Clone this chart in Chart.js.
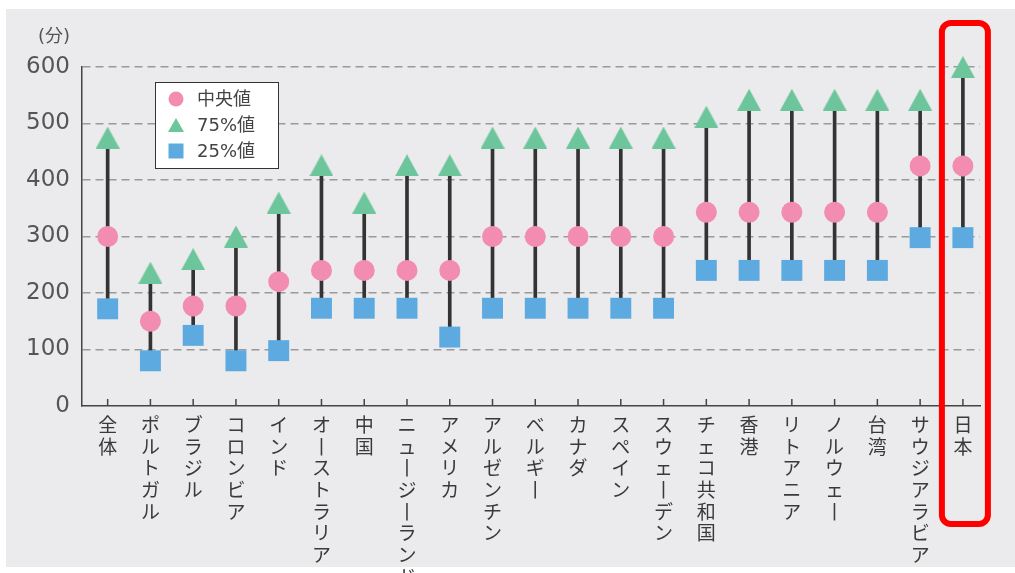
<!DOCTYPE html>
<html lang="ja">
<head>
<meta charset="utf-8">
<script src="https://cdn.jsdelivr.net/npm/chart.js@4.4.1/dist/chart.umd.min.js"></script>
<style>
  body { margin: 0; background: #fff; }
  #panel { position: absolute; left: 6px; top: 9px; right: 0; bottom: 6px; background: #ebebed; }
  #wrap { position: absolute; left: 0; top: 0; width: 1015px; height: 573px; }
</style>
</head>
<body>
<div id="panel"></div>
<div id="wrap"><canvas id="chart"></canvas></div>
<script>
const categories = ['全体', 'ポルトガル', 'ブラジル', 'コロンビア', 'インド', 'オーストラリア', '中国',
  'ニュージーランド', 'アメリカ', 'アルゼンチン', 'ベルギー', 'カナダ', 'スペイン', 'スウェーデン',
  'チェコ共和国', '香港', 'リトアニア', 'ノルウェー', '台湾', 'サウジアラビア', '日本'];
const median = [300, 150, 177, 177, 220, 240, 240, 240, 240, 300, 300, 300, 300, 300,
  343, 343, 343, 343, 343, 425, 425];
const q75 = [475, 236, 260, 300, 360, 426, 360, 426, 426, 475, 475, 475, 475, 475,
  512, 542, 542, 542, 542, 542, 600];
const q25 = [172, 80, 125, 80, 98, 173, 173, 173, 122, 173, 173, 173, 173, 173,
  240, 240, 240, 240, 240, 298, 298];
const yTicks = [0, 100, 200, 300, 400, 500, 600];

const PINK = '#f28db1';
const GREEN = '#6dc59c';
const BLUE = '#5caadf';
const FONT = '"DejaVu Sans", "Noto Sans CJK JP", sans-serif';

// triangle marker centred on its box, like the original
const tri = document.createElement('canvas');
tri.width = 24; tri.height = 22;
const tctx = tri.getContext('2d');
tctx.fillStyle = GREEN;
tctx.beginPath(); tctx.moveTo(12, 0); tctx.lineTo(24, 22); tctx.lineTo(0, 22); tctx.closePath(); tctx.fill();

const pts = arr => arr.map((v, i) => ({ x: i, y: v }));

const extras = {
  id: 'extras',
  afterDraw(chart) {
    const { ctx, chartArea, scales } = chart;
    const xs = scales.x;
    ctx.save();
    // upward tick marks on the x axis
    ctx.strokeStyle = '#444'; ctx.lineWidth = 1.5;
    categories.forEach((c, i) => {
      const x = xs.getPixelForValue(i);
      ctx.beginPath(); ctx.moveTo(x, chartArea.bottom); ctx.lineTo(x, chartArea.bottom - 7); ctx.stroke();
    });
    // unit
    ctx.fillStyle = '#555'; ctx.font = '18px ' + FONT;
    ctx.textAlign = 'right'; ctx.textBaseline = 'middle';
    ctx.fillText('(分)', chartArea.left - 12, chartArea.top - 30);
    // legend box
    const left = chartArea.left + 73, top = chartArea.top + 15;
    ctx.fillStyle = '#fff'; ctx.fillRect(left, top, 123, 86);
    ctx.strokeStyle = '#333'; ctx.lineWidth = 1; ctx.strokeRect(left + 0.5, top + 0.5, 123, 86);
    ctx.font = '18px ' + FONT; ctx.textAlign = 'left';
    chart.data.datasets.filter(d => d.type === 'line').forEach((d, i) => {
      const cx = left + 21, cy = top + 17 + i * 26;
      ctx.fillStyle = d.pointBackgroundColor;
      ctx.beginPath();
      if (d.pointStyle === 'circle') ctx.arc(cx, cy, 7.5, 0, Math.PI * 2);
      else if (d.pointStyle === 'rect') ctx.rect(cx - 7.5, cy - 7.5, 15, 15);
      else { ctx.moveTo(cx, cy - 7); ctx.lineTo(cx + 8, cy + 7); ctx.lineTo(cx - 8, cy + 7); ctx.closePath(); }
      ctx.fill();
      ctx.fillStyle = '#444';
      ctx.fillText(d.label, left + 42, cy + 1);
    });
    // red highlight round 日本
    const jx = xs.getPixelForValue(categories.length - 1);
    ctx.strokeStyle = '#ff0000'; ctx.lineWidth = 6;
    ctx.beginPath(); ctx.roundRect(jx - 21, 23, 46, 501, 9); ctx.stroke();
    ctx.restore();
  }
};

new Chart(document.getElementById('chart'), {
  type: 'bar',
  data: {
    datasets: [
      { type: 'line', label: '中央値', data: pts(median), showLine: false, clip: false,
        pointStyle: 'circle', pointRadius: 10.5, pointBackgroundColor: PINK, pointBorderWidth: 0, order: 0 },
      { type: 'line', label: '75%値', data: pts(q75), showLine: false, clip: false,
        pointStyle: tri, pointRadius: 12, pointBackgroundColor: GREEN, pointBorderWidth: 0, order: 1 },
      { type: 'line', label: '25%値', data: pts(q25), showLine: false, clip: false,
        pointStyle: 'rect', pointRadius: 14.8, pointBackgroundColor: BLUE, pointBorderWidth: 0, order: 2 },
      { type: 'bar', label: 'range', data: categories.map((c, i) => ({ x: i, y: [q25[i], q75[i]] })),
        backgroundColor: '#333', barThickness: 3, order: 5 }
    ]
  },
  options: {
    responsive: true,
    maintainAspectRatio: false,
    animation: false,
    layout: { padding: { top: 67, right: 35, left: 0, bottom: 0 } },
    plugins: { legend: { display: false }, tooltip: { enabled: false } },
    scales: {
      x: {
        type: 'linear', min: -0.6, max: 20.4, offset: false,
        grid: { display: false, drawTicks: false, offset: false },
        border: { display: true, color: '#444', width: 1.5 },
        afterBuildTicks: s => { s.ticks = categories.map((c, i) => ({ value: i })); },
        afterFit: s => { s.height = 167; },
        ticks: {
          autoSkip: false, maxRotation: 0, minRotation: 0, padding: 8,
          color: '#3a3a3a', font: { family: '"Noto Sans CJK JP", sans-serif', size: 19, lineHeight: 1.14 },
          callback: v => Array.from(categories[v] || '').map(ch => ch === 'ー' ? '丨' : ch)
        }
      },
      y: {
        min: 0, max: 600,
        afterBuildTicks: s => { s.ticks = yTicks.map(v => ({ value: v })); },
        afterFit: s => { s.width = 82; },
        grid: { drawTicks: false, lineWidth: 1.5, color: c => c.tick && c.tick.value === 0 ? 'rgba(0,0,0,0)' : '#9a9a9a' },
        border: { display: true, color: '#444', width: 1.5, dash: [8, 5] },
        ticks: { padding: 12, color: '#555', font: { family: FONT, size: 23 } }
      }
    }
  },
  plugins: [extras]
});
</script>
</body>
</html>
